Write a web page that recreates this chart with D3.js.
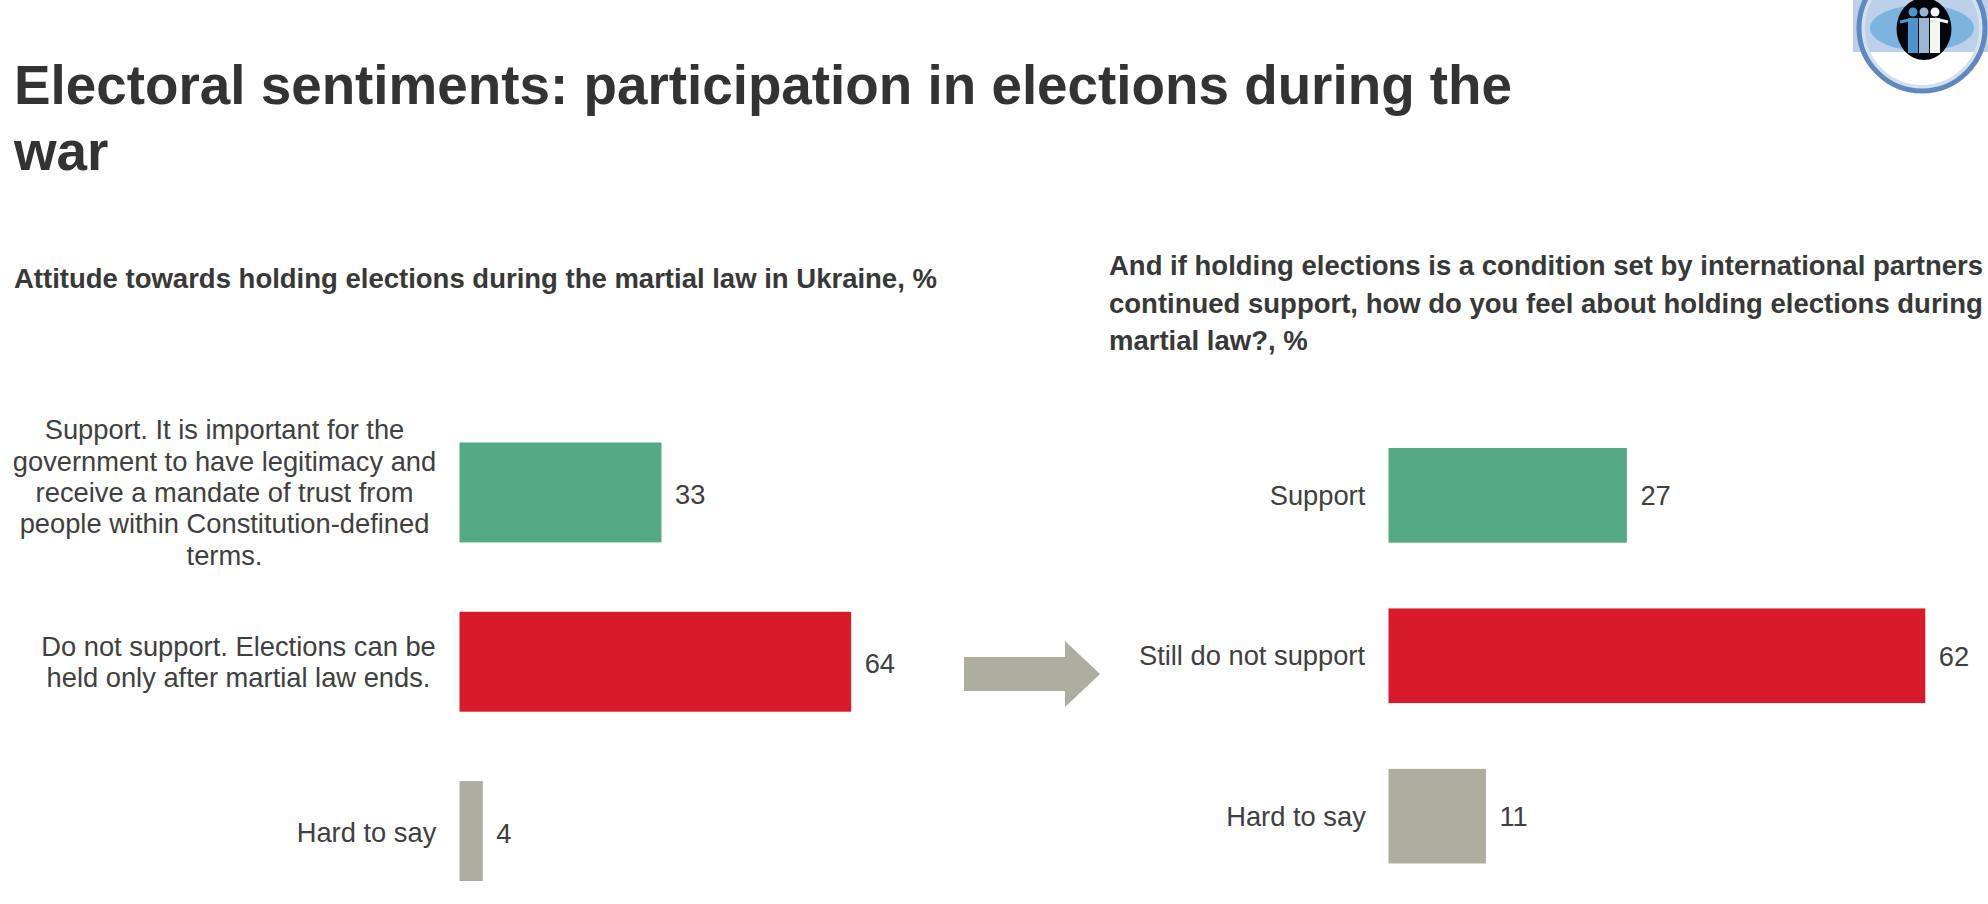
<!DOCTYPE html>
<html>
<head>
<meta charset="utf-8">
<script src="https://d3js.org/d3.v7.min.js"></script>
<style>
	body {
		padding: 0;
		margin: 0;
		background: #FFF;
		overflow: hidden;
	}
	text {
		font-family: "Liberation Sans", Arial, sans-serif;
		fill: #404040;
	}
	.title {
		font-size: 54.8px;
		font-weight: bold;
		fill: #333;
	}
	.subtitle {
		font-size: 27.5px;
		font-weight: bold;
		fill: #383838;
	}
	.label, .value {
		font-size: 27.3px;
	}
</style>
</head>
<body>
<div id="content"></div>
<script>

var titleLines = ['Electoral sentiments: participation in elections during the', 'war'];
var leftHeading = ['Attitude towards holding elections during the martial law in Ukraine, %'];
var rightHeading = [
	'And if holding elections is a condition set by international partners',
	'continued support, how do you feel about holding elections during',
	'martial law?, %'
];

var leftLabels = [
	['Support. It is important for the', 'government to have legitimacy and', 'receive a mandate of trust from', 'people within Constitution-defined', 'terms.'],
	['Do not support. Elections can be', 'held only after martial law ends.'],
	['Hard to say']
];
var rightLabels = [['Support'], ['Still do not support'], ['Hard to say']];
// bar lengths, the printed labels are these rounded
var leftValues = [33, 64, 3.8];
var rightValues = [27.4, 61.7, 11.2];
var barColors = ['#56A985', '#D71B2B', '#ADAE9F'];

var w = 1988;
var h = 904;

var svg = d3.select('#content')
	.append('svg')
	.attr('width', w)
	.attr('height', h);

// Heading texts
svg.selectAll('.title')
	.data(titleLines)
	.join('text')
	.attr('class', 'title')
	.attr('x', 14)
	.attr('y', (d, i) => 104 + i * 66)
	.text(d => d);

svg.selectAll('.left-heading')
	.data(leftHeading)
	.join('text')
	.attr('class', 'subtitle left-heading')
	.attr('x', 14)
	.attr('y', 288)
	.text(d => d);

svg.selectAll('.right-heading')
	.data(rightHeading)
	.join('text')
	.attr('class', 'subtitle right-heading')
	.attr('x', 1109)
	.attr('y', (d, i) => 275 + i * 37.5)
	.text(d => d);

// One panel: bars, values and the centred category labels
function panel(opts) {
	var x = d3.scaleLinear().domain([0, 100]).range([opts.x0, opts.x0 + opts.unit * 100]);
	var y = d3.scaleBand().domain(d3.range(opts.values.length))
		.range(opts.yRange).paddingInner(opts.pad).paddingOuter(0);

	var g = svg.append('g');

	g.selectAll('rect')
		.data(opts.values)
		.join('rect')
		.attr('x', x(0))
		.attr('y', (d, i) => y(i))
		.attr('width', d => x(d) - x(0))
		.attr('height', y.bandwidth())
		.attr('fill', (d, i) => barColors[i]);

	g.selectAll('.value')
		.data(opts.values)
		.join('text')
		.attr('class', 'value')
		.attr('x', d => x(d) + 13.5)
		.attr('y', (d, i) => y(i) + y.bandwidth() / 2 + opts.valueDy)
		.text(d => d3.format('.0f')(d));

	opts.labels.forEach((lines, i) => {
		var lh = 31.4;
		var top = y(i) + y.bandwidth() / 2 - (lines.length - 1) * lh / 2 + opts.labelDy[i];
		var t = g.append('text').attr('class', 'label').attr('text-anchor', 'middle');
		lines.forEach((s, j) => {
			t.append('tspan')
				.attr('x', opts.labelX[i])
				.attr('y', top + j * lh)
				.text(s);
		});
	});
}

panel({
	values: leftValues, labels: leftLabels,
	x0: 459.5, unit: 6.12, yRange: [442.5, 881], pad: 0.41, valueDy: 11.5,
	labelX: [224.5, 238.5, 366.5], labelDy: [9.5, 9.5, 10.5]
});

panel({
	values: rightValues, labels: rightLabels,
	x0: 1388.5, unit: 8.7, yRange: [448, 863.5], pad: 0.41, valueDy: 10,
	labelX: [1317.5, 1252, 1296], labelDy: [10, 9, 10]
});

// Arrow between the panels
var arrow = d3.path();
arrow.moveTo(964, 657);
arrow.lineTo(1065, 657);
arrow.lineTo(1065, 641);
arrow.lineTo(1100, 674);
arrow.lineTo(1065, 707);
arrow.lineTo(1065, 691);
arrow.lineTo(964, 691);
arrow.closePath();
svg.append('path').attr('d', arrow.toString()).attr('fill', '#ADAE9F');

// Logo in the corner, cropped by the top of the page
var logo = svg.append('g').attr('transform', 'translate(1922,28)');
logo.append('rect').attr('x', -69).attr('y', -28).attr('width', 135).attr('height', 52).attr('fill', '#BDD0EA');
logo.append('ellipse').attr('rx', 52).attr('ry', 23).attr('fill', '#7DB4DF');
logo.append('circle').attr('r', 60).attr('fill', 'none').attr('stroke', '#D3E0F1').attr('stroke-width', 6);
logo.append('circle').attr('r', 63).attr('fill', 'none').attr('stroke', '#6088BF').attr('stroke-width', 5);
logo.append('ellipse').attr('cx', 2).attr('cy', 1).attr('rx', 27.5).attr('ry', 31).attr('fill', '#05070D');
var people = [[-9, '#4E93CB'], [2, '#9CB6CF'], [13, '#F4F6F2']];
people.forEach(p => {
	logo.append('circle').attr('cx', p[0]).attr('cy', -16).attr('r', 4.5).attr('fill', p[1]);
	logo.append('rect').attr('x', p[0] - 5).attr('y', -10).attr('width', 10).attr('height', 35).attr('fill', p[1]);
});
logo.append('line').attr('x1', -22).attr('y1', -6).attr('x2', -8).attr('y2', -9).attr('stroke', '#4E93CB').attr('stroke-width', 3);
logo.append('line').attr('x1', 13).attr('y1', -9).attr('x2', 26).attr('y2', -6).attr('stroke', '#F4F6F2').attr('stroke-width', 3);

</script>
</body>
</html>
